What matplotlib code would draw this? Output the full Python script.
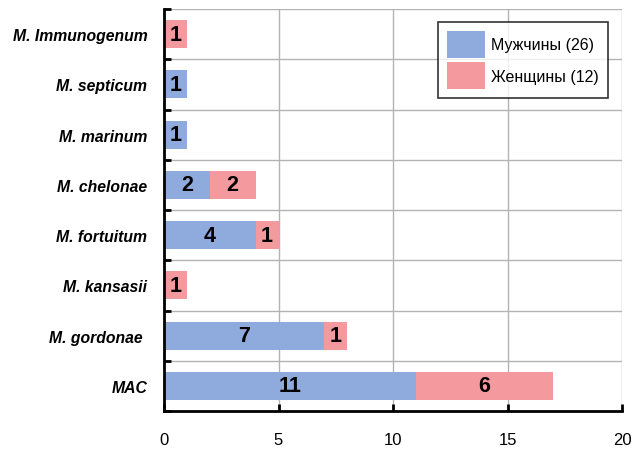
import matplotlib
matplotlib.use('Agg')
import matplotlib.pyplot as plt
import numpy as np

plt.rcParams['font.family'] = ['Liberation Sans', 'DejaVu Sans']

# bottom to top
species = ['MAC', 'M. gordonae ', 'M. kansasii', 'M. fortuitum', 'M. chelonae',
           'M. marinum', 'M. septicum', 'M. Immunogenum']
men = [11, 7, 0, 4, 2, 1, 1, 0]
women = [6, 1, 1, 1, 2, 0, 0, 1]
legend_labels = ['Мужчины (26)', 'Женщины (12)']

BLUE = '#8FAADC'
PINK = '#F4999E'

fig = plt.figure(figsize=(6.43, 4.52), dpi=100)
ax = fig.add_axes([164/643, 1 - 412/452, 458/643, 402/452])

y = np.arange(len(species))
h = 0.56
ax.barh(y, men, height=h, color=BLUE, label=legend_labels[0], zorder=2)
ax.barh(y, women, left=men, height=h, color=PINK, label=legend_labels[1], zorder=2)

# value labels inside the bars
for i in range(len(species)):
    if men[i] > 0:
        ax.text(men[i] / 2, y[i], str(men[i]), ha='center', va='center',
                fontsize=15.5, fontweight='bold', zorder=3)
    if women[i] > 0:
        ax.text(men[i] + women[i] / 2, y[i], str(women[i]), ha='center', va='center',
                fontsize=15.5, fontweight='bold', zorder=3)

ax.set_xlim(0, 20)
ax.set_ylim(-0.5, len(species) - 0.5)
ax.set_xticks([0, 5, 10, 15, 20])
ax.set_yticks(y)
ax.set_yticklabels(species, fontsize=11.3, fontweight='bold', fontstyle='italic')

# grid: vertical at x ticks, horizontal at row boundaries
for xv in [5, 10, 15, 20]:
    ax.axvline(xv, color='#b3b3b3', lw=1, zorder=1)
for yb in np.arange(0.5, len(species) + 0.5, 1):
    ax.axhline(yb, color='#b3b3b3', lw=1, zorder=1)

ax.set_yticks(np.arange(-0.5, len(species), 1), minor=True)
ax.tick_params(axis='y', which='major', length=0, pad=12)
ax.tick_params(axis='y', which='minor', direction='in', length=5, width=2)
ax.tick_params(axis='x', direction='in', length=5, width=2, labelsize=12, pad=15)

for s in ['top', 'right']:
    ax.spines[s].set_visible(False)
ax.spines['left'].set_linewidth(2)
ax.spines['bottom'].set_linewidth(2)

leg = ax.legend(loc='upper right', bbox_to_anchor=(608/643, 1 - 23/452),
                bbox_transform=fig.transFigure, borderaxespad=0, fontsize=11.5,
                frameon=True, fancybox=False, edgecolor='black',
                handlelength=2.4, handleheight=2.2, borderpad=0.55,
                labelspacing=0.3, handletextpad=0.4)
leg.get_frame().set_linewidth(1.2)

fig.savefig('out.png', dpi=100)
